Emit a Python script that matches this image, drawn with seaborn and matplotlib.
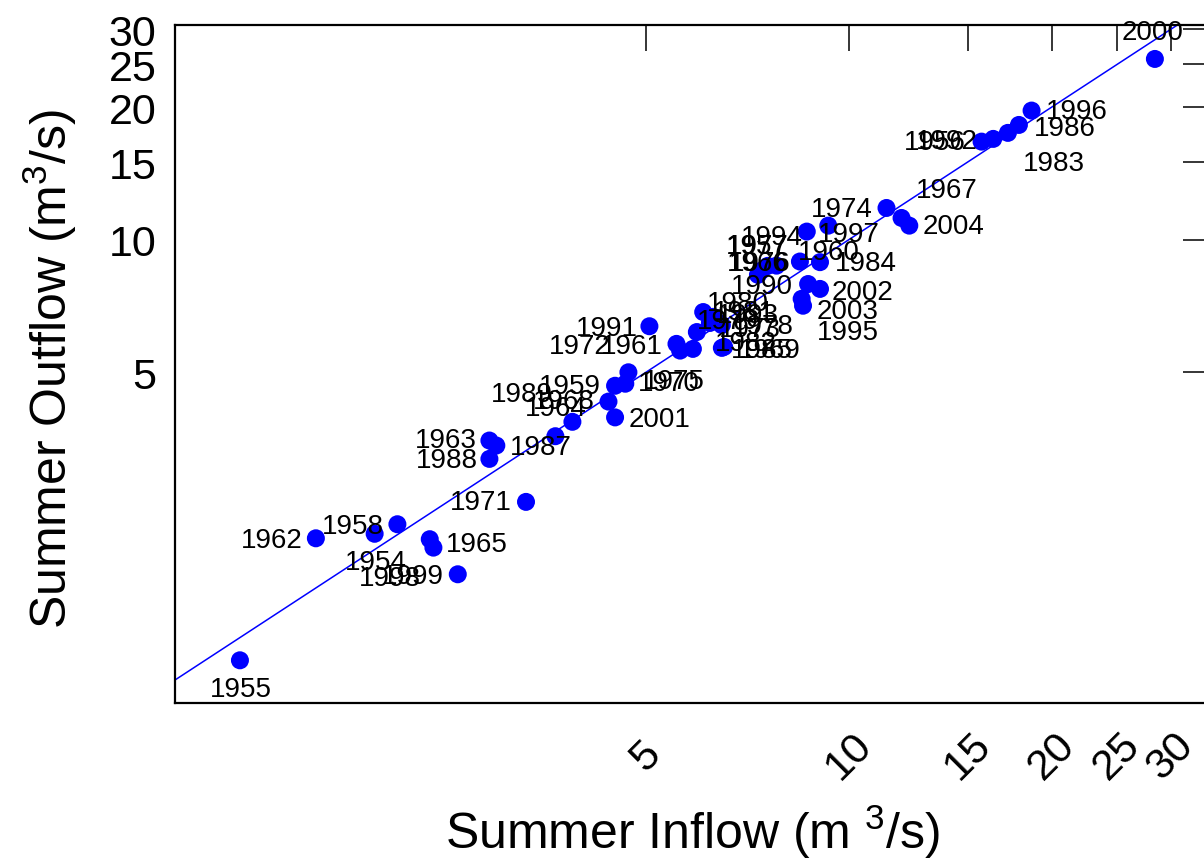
import matplotlib
matplotlib.use("Agg")
import matplotlib.pyplot as plt
from matplotlib.ticker import FixedLocator, NullLocator
import pandas as pd
import seaborn as sns

# Summer mean flows per year (m^3/s)
years = [1954, 1955, 1956, 1957, 1958, 1959, 1960, 1961, 1962, 1963,
         1964, 1965, 1966, 1967, 1968, 1969, 1970, 1971, 1972, 1973,
         1974, 1975, 1976, 1977, 1978, 1979, 1980, 1981, 1982, 1983,
         1984, 1985, 1986, 1987, 1988, 1989, 1990, 1991, 1992, 1993,
         1994, 1995, 1996, 1997, 1998, 1999, 2000, 2001, 2002, 2003, 2004]
inflow = [1.98, 1.25, 15.73, 7.42, 2.14, 4.50, 8.46, 5.55, 1.62, 2.93,
          3.89, 2.42, 7.33, 11.97, 4.40, 6.53, 4.66, 3.32, 5.62, 5.87,
          11.37, 4.71, 7.81, 7.58, 6.48, 6.22, 6.08, 6.29, 5.95, 17.21,
          9.06, 6.48, 17.87, 3.00, 2.93, 3.67, 8.70, 5.06, 16.37, 6.35,
          8.66, 8.55, 18.66, 9.32, 2.39, 2.63, 28.43, 4.50, 9.06, 8.51, 12.29]
outflow = [2.15, 1.11, 16.69, 8.51, 2.26, 4.66, 8.92, 5.80, 2.10, 3.50,
           3.86, 2.00, 8.32, 11.20, 4.29, 5.71, 4.71, 2.54, 5.60, 5.65,
           11.80, 5.00, 8.73, 8.72, 6.40, 6.47, 6.85, 6.68, 6.17, 17.47,
           8.89, 5.68, 18.21, 3.41, 3.18, 3.58, 7.93, 6.36, 16.93, 6.54,
           10.43, 7.08, 19.63, 10.76, 2.09, 1.74, 25.71, 3.95, 7.73, 7.34, 10.76]

# where each year label sits relative to its point (pixels, x right / y up)
label_offsets = [(1, -28), (1, -29), (-47, 0), (-5, 25), (-45, -2), (-45, 0), (29, 10),
                 (-45, -2), (-44, -2), (-44, 1), (-17, 14), (43, 4), (0, 12), (45, 28),
                 (-45, 1), (46, -3), (44, 1), (-45, 0), (-100, 5), (57, 20), (-45, -1),
                 (45, -9), (-17, 3), (-10, 20), (41, -1), (18, 2), (35, 9), (31, 5),
                 (49, -11), (46, -30), (46, -1), (40, -2), (46, -3), (44, -1), (-43, -1),
                 (-33, 42), (-46, -2), (-43, -2), (-46, -2), (32, 6), (-35, -5), (45, -26),
                 (45, 0), (21, -8), (-40, -39), (-45, -2), (-2, 27), (44, -2), (43, -3),
                 (46, -12), (44, 0)]

x_ticks = [5, 10, 15, 20, 25, 30]
y_ticks = [5, 10, 15, 20, 25, 30]

df = pd.DataFrame({"year": years, "inflow": inflow, "outflow": outflow})

sns.set_theme(style="white")
plt.rcParams["font.family"] = ["Liberation Sans", "DejaVu Sans"]
plt.rcParams["mathtext.fontset"] = "custom"
plt.rcParams["mathtext.rm"] = "Liberation Sans"
plt.rcParams["mathtext.it"] = "Liberation Sans:italic"
for key in ("text.color", "axes.labelcolor", "xtick.color", "ytick.color",
            "xtick.labelcolor", "ytick.labelcolor", "axes.edgecolor"):
    plt.rcParams[key] = "black"

W, H = 1204, 862
fig = plt.figure(figsize=(W / 100, H / 100), dpi=100)
left, right, top, bottom = 174.6, 1209.0, 26.0, 704.0
ax = fig.add_axes([left / W, 1 - bottom / H, (right - left) / W, (bottom - top) / H])

ax.set_xscale("log")
ax.set_yscale("log")
ax.set_xlim(1.0, 34.2)
ax.set_ylim(0.888, 30.7)

# 1:1 reference line
ax.plot([0.5, 60], [0.5, 60], color="#0000FF", lw=1.1, zorder=2)

sns.scatterplot(data=df, x="inflow", y="outflow", color="#0000FF", s=168,
                edgecolor="none", linewidth=0, legend=False, ax=ax, zorder=3)

for yr, xv, yv, (dx, dy) in zip(years, inflow, outflow, label_offsets):
    ax.annotate(str(yr), (xv, yv), xytext=(dx, dy), textcoords="offset pixels",
                ha="center", va="center", fontsize=20, color="black",
                annotation_clip=False, zorder=4)

ax.xaxis.set_major_locator(FixedLocator(x_ticks))
ax.yaxis.set_major_locator(FixedLocator(y_ticks))
ax.xaxis.set_minor_locator(NullLocator())
ax.yaxis.set_minor_locator(NullLocator())
ax.set_xticklabels([str(t) for t in x_ticks], rotation=45, ha="center", va="center")
ax.set_yticklabels([str(t) for t in y_ticks])

ax.tick_params(axis="both", which="major", direction="in", length=18.7, width=1.1,
               color="black", labelcolor="black", labelsize=31, top=True, right=True,
               labeltop=False, labelright=False)
ax.tick_params(axis="x", pad=38)
ax.tick_params(axis="y", pad=13)

for sp in ax.spines.values():
    sp.set_color("black")
    sp.set_linewidth(1.6)

ax.set_xlabel("Summer Inflow (m $^{3}$/s)", fontsize=36, color="black")
ax.set_ylabel("Summer Outflow (m$^{3}$/s)", fontsize=36, color="black")
ax.xaxis.label.set_va("center")
ax.yaxis.label.set_va("center")
ax.xaxis.set_label_coords(0.501, -0.189)
ax.yaxis.set_label_coords(-0.1205, 0.494)

fig.savefig("out.png", dpi=100)
